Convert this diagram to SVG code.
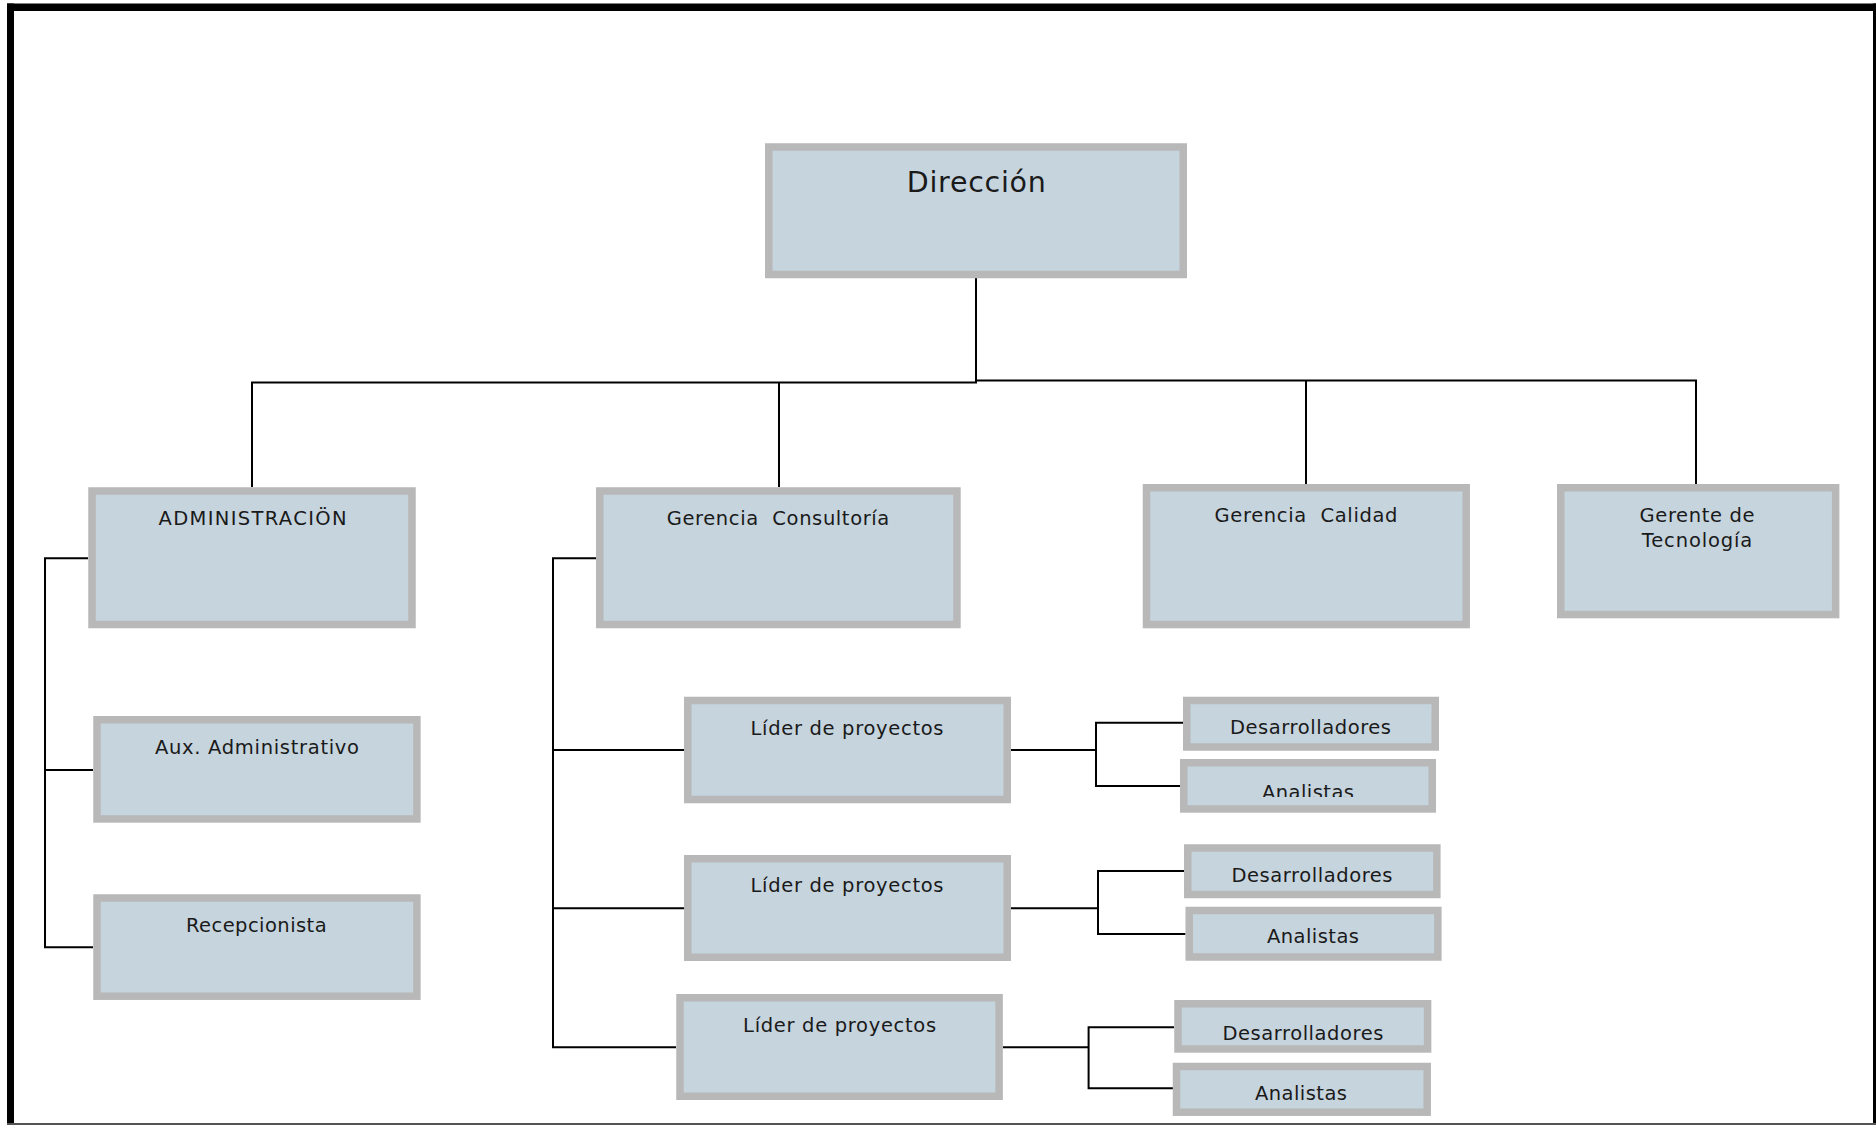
<svg xmlns="http://www.w3.org/2000/svg" width="1876" height="1125" viewBox="0 0 1876 1125">
<defs>
<style>
.box{fill:#c6d4de;stroke:#b8b8b8;stroke-width:7.5}
.lbl{font-family:"DejaVu Sans","Verdana",sans-serif;font-size:19.5px;fill:#1a1a1a;text-anchor:middle;white-space:pre}
.big{font-size:28.5px}
.con{fill:none;stroke:#000;stroke-width:2}
</style>
<clipPath id="clipAna1"><rect x="1180" y="759" width="256" height="38"/></clipPath>
</defs>
<rect width="1876" height="1125" fill="#fff"/>
<!-- page frame -->
<g id="frame">
<rect x="7" y="3.5" width="7" height="1121.5" fill="#000"/>
<rect x="7" y="3.5" width="1869" height="7.5" fill="#000"/>
<rect x="1873" y="3.5" width="3" height="1121.5" fill="#000"/>
<rect x="7" y="1123" width="1869" height="2" fill="#555"/>
</g>
<g id="connectors">
<path class="con" d="M976 278 V382.5 H252 V487 M779 382.5 V487 M976 380.5 H1696 V484 M1306 380.5 V484"/>
<path class="con" d="M88 558.3 H45 V947.3 H93 M45 770 H93"/>
<path class="con" d="M596 558.3 H553 V1047.3 H676 M553 750 H684 M553 908.3 H684"/>
<path class="con" d="M1183 722.7 H1096 V786 H1180 M1011 750 H1096"/>
<path class="con" d="M1184 871 H1098 V934 H1185.5 M1011 908.3 H1098"/>
<path class="con" d="M1174 1027.3 H1088.6 V1088.3 H1173 M1003 1047.3 H1088.6"/>
</g>
<g id="n-direccion">
<rect class="box" x="768.75" y="147" width="414.5" height="127.5"/>
<text class="lbl big" x="976.3" y="191.7" textLength="139" lengthAdjust="spacing">Dirección</text>
</g>
<g id="n-administracion">
<rect class="box" x="92" y="491" width="320" height="133.5"/>
<text class="lbl" x="252.5" y="525" textLength="188" lengthAdjust="spacing">ADMINISTRACIÖN</text>
</g>
<g id="n-consultoria">
<rect class="box" x="599.75" y="491" width="357.2" height="133.5"/>
<text class="lbl" x="778" y="525" textLength="222.6" lengthAdjust="spacing">Gerencia  Consultoría</text>
</g>
<g id="n-calidad">
<rect class="box" x="1146.5" y="487.75" width="319.7" height="136.8"/>
<text class="lbl" x="1306" y="521.7" textLength="183" lengthAdjust="spacing">Gerencia  Calidad</text>
</g>
<g id="n-tecnologia">
<rect class="box" x="1560.75" y="487.75" width="274.9" height="126.8"/>
<text class="lbl" x="1697" y="521.7" textLength="115" lengthAdjust="spacing">Gerente de</text>
<text class="lbl" x="1697" y="547" textLength="110.5" lengthAdjust="spacing">Tecnología</text>
</g>
<g id="n-aux">
<rect class="box" x="97" y="719.75" width="319.9" height="99.2"/>
<text class="lbl" x="257" y="754" textLength="204" lengthAdjust="spacing">Aux. Administrativo</text>
</g>
<g id="n-recepcionista">
<rect class="box" x="97" y="898" width="319.9" height="98.2"/>
<text class="lbl" x="256.3" y="931.7" textLength="140.7" lengthAdjust="spacing">Recepcionista</text>
</g>
<g id="n-lider1">
<rect class="box" x="687.75" y="700.5" width="319.5" height="99"/>
<text class="lbl" x="847" y="735" textLength="193" lengthAdjust="spacing">Líder de proyectos</text>
</g>
<g id="n-lider2">
<rect class="box" x="687.75" y="858.75" width="319.5" height="98.5"/>
<text class="lbl" x="847" y="891.7" textLength="193" lengthAdjust="spacing">Líder de proyectos</text>
</g>
<g id="n-lider3">
<rect class="box" x="680" y="997.75" width="319.1" height="98.5"/>
<text class="lbl" x="839.6" y="1031.7" textLength="193" lengthAdjust="spacing">Líder de proyectos</text>
</g>
<g id="n-des1">
<rect class="box" x="1186.75" y="700.5" width="248.5" height="46.5"/>
<text class="lbl" x="1310.5" y="734" textLength="161" lengthAdjust="spacing">Desarrolladores</text>
</g>
<g id="n-ana1">
<rect class="box" x="1183.75" y="762.75" width="248.5" height="46.2"/>
<text class="lbl" x="1308" y="798.5" textLength="92" lengthAdjust="spacing" clip-path="url(#clipAna1)">Analistas</text>
</g>
<g id="n-des2">
<rect class="box" x="1187.75" y="848" width="249.1" height="46.5"/>
<text class="lbl" x="1312" y="881.7" textLength="161" lengthAdjust="spacing">Desarrolladores</text>
</g>
<g id="n-ana2">
<rect class="box" x="1189.25" y="910.5" width="248.6" height="46.5"/>
<text class="lbl" x="1313" y="943.3" textLength="92" lengthAdjust="spacing">Analistas</text>
</g>
<g id="n-des3">
<rect class="box" x="1178" y="1003.75" width="249.6" height="45.2"/>
<text class="lbl" x="1302.9" y="1040" textLength="161" lengthAdjust="spacing">Desarrolladores</text>
</g>
<g id="n-ana3">
<rect class="box" x="1176.5" y="1066.5" width="250.7" height="45.7"/>
<text class="lbl" x="1301" y="1100" textLength="92" lengthAdjust="spacing">Analistas</text>
</g>
</svg>
